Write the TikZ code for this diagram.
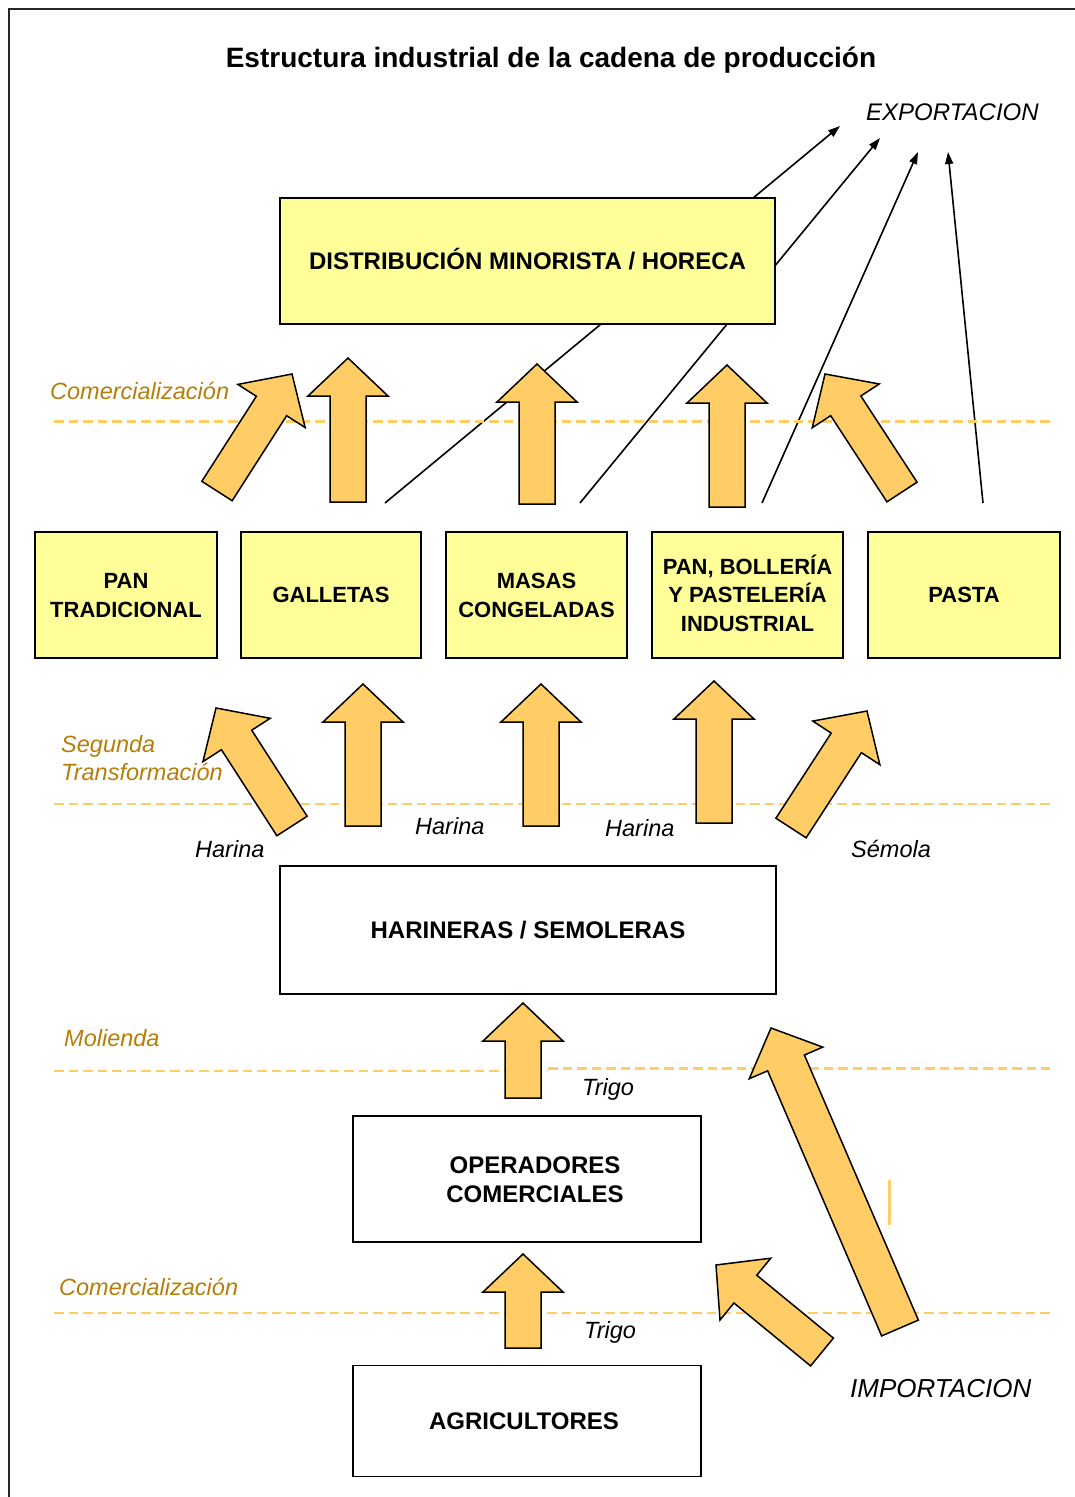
\documentclass[tikz,border=0pt]{standalone}
\usepackage{fontspec}
\setmainfont{Liberation Sans}
\usetikzlibrary{calc,arrows.meta}

\definecolor{boxyellow}{HTML}{FFFF99}
\definecolor{arrowfill}{HTML}{FFCC66}
\definecolor{stagegold}{RGB}{181,126,9}
\definecolor{stageline}{HTML}{FFCC66}

\tikzset{
  boxlabel/.style={font=\bfseries\fontsize{24}{29}\selectfont, align=center,
    text height=17.2pt, text depth=0pt, inner sep=0pt},
  smalllabel/.style={font=\bfseries\fontsize{22}{28.5}\selectfont, text height=15.8pt},
  twolines/.style={text height=46.2pt},
  smalltwo/.style={text height=44.3pt},
  smallthree/.style={text height=72.8pt},
  mainbox/.style={boxlabel, draw=black, line width=1.8pt, fill=boxyellow},
  prodbox/.style={boxlabel, smalllabel, draw=black, line width=1.8pt, fill=boxyellow},
  whitebox/.style={boxlabel, draw=black, line width=1.8pt, fill=white},
  stagelabel/.style={font=\itshape\fontsize{23.5}{28}\selectfont, text=stagegold,
    anchor=base west, inner sep=0pt},
  flowlabel/.style={font=\itshape\fontsize{23.5}{28}\selectfont, anchor=base west, inner sep=0pt},
  stageline/.style={draw=stageline, line width=2.5pt, dash pattern=on 9.5pt off 5pt},
  exportline/.style={draw=black, line width=1.6pt, -{Triangle[length=12pt,width=8pt]}},
  flowarrow/.style={draw=black, line width=1.5pt, fill=arrowfill, line join=miter},
}

% block arrow: [shaft half width]{tail}{tip}
\newcommand\flowarrow[3][18]{%
  \coordinate (fa-h) at ($(#3)!38pt!(#2)$);
  \draw[flowarrow] ($(#2)!#1pt!90:(#3)$) -- ($(fa-h)!#1pt!90:(#3)$)
    -- ($(fa-h)!40pt!90:(#3)$) -- (#3) -- ($(fa-h)!40pt!-90:(#3)$)
    -- ($(fa-h)!#1pt!-90:(#3)$) -- ($(#2)!#1pt!-90:(#3)$) -- cycle;
}

\begin{document}
\begin{tikzpicture}[x=1pt,y=-1pt]
\useasboundingbox (0,0) rectangle (1075,1497);

% page frame
\draw[line width=2pt, black!85] (1075,9) -- (9,9) -- (9,1497);

% title
\node[font=\bfseries\fontsize{28}{33}\selectfont, text height=20pt, text depth=0pt, inner sep=0pt]
  (title) at (551,57) {Estructura industrial de la cadena de producción};

% export flows (behind the retail box)
\node[font=\itshape\fontsize{24}{28}\selectfont, anchor=base west, inner sep=0pt]
  (export) at (866,120) {EXPORTACION};
\coordinate (e1s) at (385,503); \coordinate (e1t) at (840,126);
\coordinate (e2s) at (580,503); \coordinate (e2t) at (880,138);
\coordinate (e3s) at (762,503); \coordinate (e3t) at (918,152);
\coordinate (e4s) at (983,503); \coordinate (e4t) at (948,152);
\draw[exportline] (e1s) -- (e1t);
\draw[exportline] (e2s) -- (e2t);
\draw[exportline] (e3s) -- (e3t);
\draw[exportline] (e4s) -- (e4t);

% boxes
\node[mainbox, minimum width=495pt, minimum height=126pt] (retail) at (527.5,261) {DISTRIBUCIÓN MINORISTA / HORECA};
\node[prodbox, smalltwo, minimum width=182pt, minimum height=126pt] (pan) at (126,595) {PAN\\TRADICIONAL};
\node[prodbox, minimum width=180pt, minimum height=126pt] (galletas) at (331,595) {GALLETAS};
\node[prodbox, smalltwo, minimum width=181pt, minimum height=126pt] (masas) at (536.5,595) {MASAS\\CONGELADAS};
\node[prodbox, smallthree, minimum width=191pt, minimum height=126pt] (bolleria) at (747.5,595) {PAN, BOLLERÍA\\Y PASTELERÍA\\INDUSTRIAL};
\node[prodbox, minimum width=192pt, minimum height=126pt] (pasta) at (964,595) {PASTA};
\node[whitebox, minimum width=496pt, minimum height=128pt] (harineras) at (528,930) {HARINERAS / SEMOLERAS};
\node[whitebox, twolines, minimum width=348pt, minimum height=126pt] (operadores) at (527,1179)
  {\hspace*{16pt}OPERADORES\\\hspace*{16pt}COMERCIALES};
\node[whitebox, minimum width=348pt, minimum height=111pt] (agricultores) at (527,1421)
  {AGRICULTORES\hspace*{6pt}};

% stage separators
\draw[stageline] (54,421.5) -- (1050,421.5);
\draw[stageline] (54,804) -- (1050,804);
\draw[stageline] (54,1071) -- (548,1071);
\draw[stageline] (548,1068.5) -- (1050,1068.5);
\draw[stageline] (54,1313) -- (1050,1313);
\draw[draw=arrowfill, line width=3pt] (889,1180) -- (889,1225);

% stage names
\node[stagelabel] (st1) at (50,399) {Comercialización};
\node[stagelabel] (st2a) at (61,752) {Segunda};
\node[stagelabel] (st2b) at (61,780.5) {Transformación};
\node[stagelabel] (st3) at (64,1046) {Molienda};
\node[stagelabel] (st4) at (59,1295) {Comercialización};

% product names on flows
\node[flowlabel] (h1) at (195,857) {Harina};
\node[flowlabel] (h2) at (415,834) {Harina};
\node[flowlabel] (h3) at (605,836) {Harina};
\node[flowlabel] (sem) at (851,857) {Sémola};
\node[flowlabel] (t1) at (582,1095) {Trigo};
\node[flowlabel] (t2) at (584,1338) {Trigo};
\node[font=\itshape\fontsize{26}{30}\selectfont, anchor=base west, inner sep=0pt]
  (import) at (850,1397) {IMPORTACION};

% flow arrows: products to retail
\coordinate (a1s) at (217,491); \coordinate (a1t) at (292,374);
\coordinate (a2s) at (348,502); \coordinate (a2t) at (348,358);
\coordinate (a3s) at (537,504); \coordinate (a3t) at (537,364);
\coordinate (a4s) at (727,507); \coordinate (a4t) at (727,365);
\coordinate (a5s) at (902,492); \coordinate (a5t) at (825,374);
\flowarrow{a1s}{a1t}
\flowarrow{a2s}{a2t}
\flowarrow{a3s}{a3t}
\flowarrow{a4s}{a4t}
\flowarrow{a5s}{a5t}

% flow arrows: mills to products
\coordinate (b1s) at (292,826); \coordinate (b1t) at (216,708);
\coordinate (b2s) at (363,826); \coordinate (b2t) at (363,684);
\coordinate (b3s) at (541,826); \coordinate (b3t) at (541,684);
\coordinate (b4s) at (714,823); \coordinate (b4t) at (714,681);
\coordinate (b5s) at (791,828); \coordinate (b5t) at (867,711);
\flowarrow{b1s}{b1t}
\flowarrow{b2s}{b2t}
\flowarrow{b3s}{b3t}
\flowarrow{b4s}{b4t}
\flowarrow{b5s}{b5t}

% flow arrows: wheat supply
\coordinate (c1s) at (523,1098); \coordinate (c1t) at (523,1003);
\coordinate (c2s) at (523,1348); \coordinate (c2t) at (523,1254);
\coordinate (d1s) at (900,1328); \coordinate (d1t) at (771,1028);
\coordinate (d2s) at (822,1352); \coordinate (d2t) at (716,1265);
\flowarrow{c1s}{c1t}
\flowarrow{c2s}{c2t}
\flowarrow[20]{d1s}{d1t}
\flowarrow{d2s}{d2t}
\end{tikzpicture}
\end{document}
